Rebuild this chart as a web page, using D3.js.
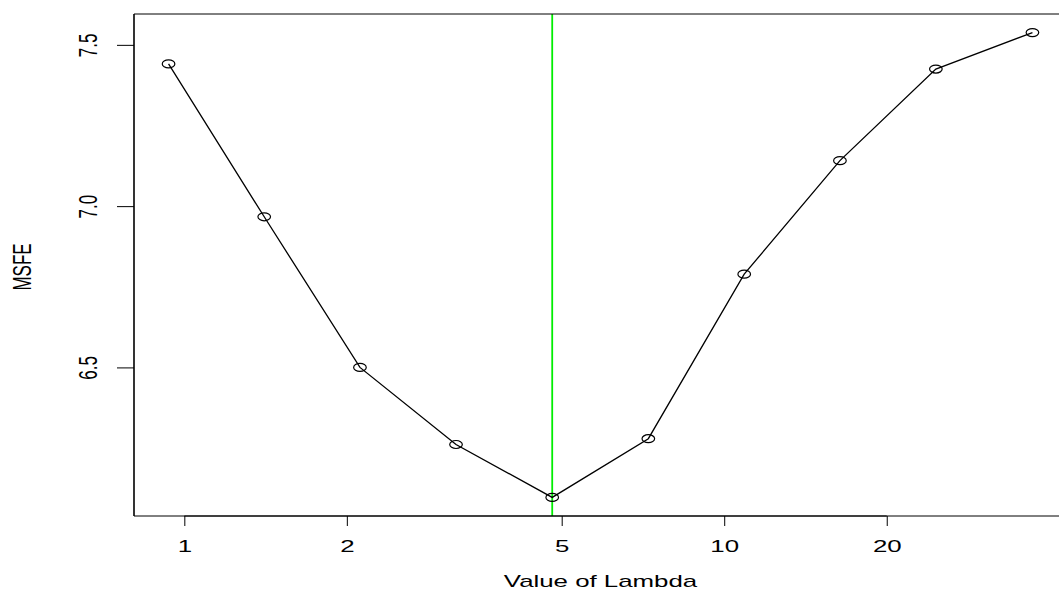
<!DOCTYPE html>
<html>
<head>
<meta charset="utf-8">
<script src="https://cdn.jsdelivr.net/npm/d3@7"></script>
<style>
  body { margin: 0; background: #fff; }
  text { font-family: "Liberation Sans", Arial, sans-serif; fill: #000; }
</style>
</head>
<body>
<div class="chart"></div>
<script>
// values
var lambdas = [0.935, 1.406, 2.115, 3.186, 4.802, 7.235, 10.89, 16.38, 24.66, 37.23];
var msfe = [7.441, 6.967, 6.500, 6.261, 6.097, 6.279, 6.789, 7.141, 7.425, 7.538];
var xTicks = [1, 2, 5, 10, 20];
var yTicks = [6.5, 7.0, 7.5];
var yTickLabels = ["6.5", "7.0", "7.5"];

var svgWidth = 1059;
var svgHeight = 592;
var stretch = 1.52; // the picture is widened horizontally

var box = { left: 134, right: 1067, top: 14, bottom: 516 };

var svg = d3.select(".chart")
    .append("svg")
    .attr("width", svgWidth)
    .attr("height", svgHeight);

// R style 4% padding on each side
var lx = d3.extent(lambdas, d => Math.log10(d));
var px = (lx[1] - lx[0]) * 0.04;
var ly = d3.extent(msfe);
var py = (ly[1] - ly[0]) * 0.04;

var xScale = d3.scaleLog()
    .domain([Math.pow(10, lx[0] - px), Math.pow(10, lx[1] + px)])
    .range([box.left, box.right]);

var yScale = d3.scaleLinear()
    .domain([ly[0] - py, ly[1] + py])
    .range([box.bottom, box.top]);

// green line at the smallest error
var best = d3.minIndex(msfe);
svg.append("line")
    .attr("x1", xScale(lambdas[best])).attr("x2", xScale(lambdas[best]))
    .attr("y1", box.top).attr("y2", box.bottom)
    .attr("stroke", "#00ee00")
    .attr("stroke-width", 1.8);

var pts = lambdas.map((d, i) => [d, msfe[i]]);

svg.append("path")
    .datum(pts)
    .attr("fill", "none")
    .attr("stroke", "#000")
    .attr("stroke-width", 1.3)
    .attr("d", d3.line().x(d => xScale(d[0])).y(d => yScale(d[1])));

svg.selectAll(".pt")
    .data(pts)
    .enter()
    .append("ellipse")
    .attr("class", "pt")
    .attr("cx", d => xScale(d[0]))
    .attr("cy", d => yScale(d[1]))
    .attr("rx", 6.3)
    .attr("ry", 4)
    .attr("fill", "none")
    .attr("stroke", "#000")
    .attr("stroke-width", 1.2);

// plot box
svg.append("line").attr("x1", box.left).attr("x2", box.right).attr("y1", box.top).attr("y2", box.top)
    .attr("stroke", "#000").attr("stroke-width", 1);
svg.append("line").attr("x1", box.left).attr("x2", box.right).attr("y1", box.bottom).attr("y2", box.bottom)
    .attr("stroke", "#000").attr("stroke-width", 1);
svg.append("line").attr("x1", box.left).attr("x2", box.left).attr("y1", box.top).attr("y2", box.bottom)
    .attr("stroke", "#000").attr("stroke-width", 1.6);

// x axis
var xAxis = svg.append("g")
    .attr("transform", `translate(0, ${box.bottom})`)
    .call(d3.axisBottom(xScale).tickValues(xTicks).tickFormat(d3.format("d")).tickSize(10).tickSizeOuter(0));
xAxis.select(".domain").remove();
xAxis.selectAll("line").attr("stroke", "#000");
xAxis.selectAll("text")
    .attr("y", 0).attr("dy", 0)
    .attr("font-size", 17)
    .attr("font-family", "Liberation Sans, Arial, sans-serif")
    .attr("transform", `translate(0, 36) scale(${stretch}, 1)`);
svg.append("line")
    .attr("x1", xScale(xTicks[0])).attr("x2", xScale(xTicks[xTicks.length - 1]))
    .attr("y1", box.bottom).attr("y2", box.bottom)
    .attr("stroke", "#000");

// y axis
var yAxis = svg.append("g")
    .attr("transform", `translate(${box.left}, 0)`)
    .call(d3.axisLeft(yScale).tickValues(yTicks).tickFormat((d, i) => yTickLabels[i]).tickSize(17).tickSizeOuter(0));
yAxis.select(".domain").remove();
yAxis.selectAll("line").attr("stroke", "#000");
yAxis.selectAll("text")
    .attr("x", 0).attr("dy", 0)
    .attr("text-anchor", "middle")
    .attr("font-size", 17)
    .attr("font-family", "Liberation Sans, Arial, sans-serif")
    .attr("transform", `translate(-37, 0) scale(${stretch}, 1) rotate(-90)`);

// axis titles
svg.append("text")
    .attr("transform", `translate(${(box.left + box.right) / 2}, 587) scale(${stretch}, 1)`)
    .attr("text-anchor", "middle")
    .attr("font-size", 17)
    .text("Value of Lambda");

svg.append("text")
    .attr("transform", `translate(31, ${(box.top + box.bottom) / 2 + 2}) scale(${stretch}, 1) rotate(-90)`)
    .attr("text-anchor", "middle")
    .attr("font-size", 17)
    .text("MSFE");
</script>
</body>
</html>
